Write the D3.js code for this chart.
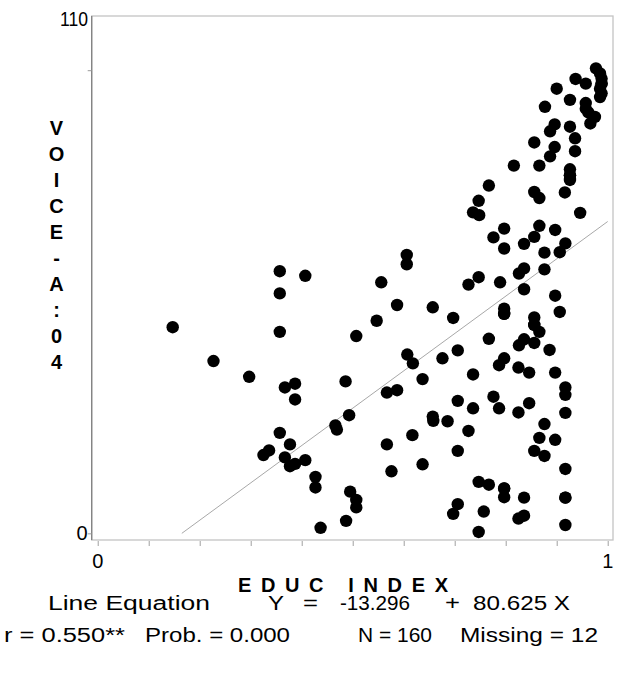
<!DOCTYPE html>
<html lang="en">
	<head>
		<meta charset="utf-8">
		<title>VOICE-A:04 by EDUC INDEX</title>
		<script type="text/javascript" src="https://cdn.jsdelivr.net/npm/d3@7/dist/d3.min.js"></script>
		<style>
			body { margin: 0; background: #fff; }
			text { font-family: "Liberation Sans", Arial, sans-serif; fill: #000; }
		</style>
	</head>
	<body>
		<script type="text/javascript">
			// data
			var educ_index = [
				0.147, 0.227, 0.297, 0.357, 0.407, 0.357, 0.357, 0.367, 0.387, 0.387,
				0.357, 0.377, 0.336, 0.325, 0.367, 0.377, 0.387, 0.407, 0.427, 0.427,
				0.437, 0.487, 0.495, 0.486, 0.493, 0.466, 0.469, 0.507, 0.507, 0.607,
				0.618, 0.676, 0.706, 0.787, 0.797, 0.825, 0.736, 0.637, 0.567, 0.587,
				0.706, 0.736, 0.776, 0.787, 0.825, 0.657, 0.658, 0.686, 0.727, 0.617,
				0.567, 0.706, 0.637, 0.576, 0.747, 0.767, 0.797, 0.797, 0.706, 0.697,
				0.757, 0.825, 0.747, 0.836, 0.836, 0.917, 0.917, 0.917, 0.856, 0.876,
				0.866, 0.897, 0.876, 0.846, 0.917, 0.917, 0.917, 0.846, 0.897, 0.886,
				0.856, 0.836, 0.826, 0.866, 0.856, 0.856, 0.797, 0.797, 0.906, 0.897,
				0.836, 0.789, 0.826, 0.836, 0.876, 0.906, 0.917, 0.876, 0.836, 0.797,
				0.797, 0.856, 0.866, 0.897, 0.946, 0.866, 0.856, 0.916, 0.816, 0.767,
				0.747, 0.736, 0.748, 0.776, 0.606, 0.606, 0.556, 0.747, 0.727, 0.587,
				0.657, 0.547, 0.697, 0.507, 0.767, 0.866, 0.926, 0.926, 0.926, 0.856,
				0.896, 0.887, 0.936, 0.936, 0.896, 0.887, 0.926, 0.877, 0.926, 0.900,
				0.937, 0.957, 0.957, 0.957, 0.962, 0.975, 0.966, 0.977, 0.985, 0.988,
				0.988, 0.985, 0.988, 0.985, 0.917, 0.797, 0.926, 0.988, 0.856, 0.797
			];
			var voice_a04 = [
				44.5, 37.2, 33.8, 56.6, 55.6, 51.8, 43.5, 31.5, 32.3, 28.9,
				21.7, 19.2, 17.9, 16.9, 16.4, 14.5, 15.0, 15.8, 12.2, 9.9,
				1.2, 2.7, 9.0, 32.8, 25.5, 23.3, 22.4, 7.2, 5.6, 38.6,
				36.7, 37.8, 39.5, 36.3, 37.8, 35.8, 34.3, 33.3, 30.4, 30.9,
				28.6, 27.0, 29.5, 27.0, 26.1, 25.2, 24.3, 24.2, 22.1, 21.2,
				19.2, 17.8, 14.9, 13.4, 11.1, 10.5, 9.7, 7.8, 6.3, 4.2,
				4.7, 3.2, 0.3, 7.7, 3.8, 7.7, 1.8, 13.9, 17.8, 16.7,
				20.6, 20.2, 23.6, 28.1, 26.0, 31.5, 29.9, 34.7, 34.7, 39.6,
				41.1, 41.9, 40.6, 43.5, 45.0, 46.6, 48.5, 47.4, 47.8, 51.3,
				52.7, 54.2, 56.1, 57.2, 57.0, 60.7, 62.6, 60.6, 62.5, 61.5,
				65.8, 64.0, 66.4, 65.5, 69.2, 72.4, 73.7, 73.6, 79.4, 75.1,
				71.8, 69.3, 68.7, 63.9, 60.1, 58.1, 54.2, 55.3, 53.7, 49.3,
				48.8, 45.9, 46.5, 42.6, 42.0, 79.4, 78.6, 77.3, 76.3, 84.4,
				83.4, 81.4, 85.3, 82.5, 88.3, 86.8, 87.8, 92.1, 93.6, 96.0,
				98.1, 97.1, 92.9, 91.7, 90.9, 89.9, 88.5, 100.4, 99.3, 98.2,
				97.1, 96.0, 95.0, 94.2, 7.7, 9.7, 77.3, 97.1, 45.0, 47.4
			];

			// regression line and summary
			var intercept = -13.296;
			var slope = 80.625;
			var x_ticks = [0, 0.1, 0.2, 0.3, 0.4, 0.5, 0.6, 0.7, 0.8, 0.9, 1];
			var x_tick_labels = ["0", "1"];
			var y_ticks = [0, 100];
			var y_tick_labels = ["0", "110"];
			var y_title = ["V", "O", "I", "C", "E", "-", "A", ":", "0", "4"];
			var line1 = ["Line Equation", "Y", "=", "-13.296", "+", "80.625 X"];
			var line2 = ["r = 0.550**", "Prob. = 0.000", "N = 160", "Missing = 12"];

			// page parameters
			var width = 627;
			var height = 673;
			var left = 91.7;
			var right = 613;
			var top_edge = 16;
			var bottom = 540;

			var svg = d3.select("body").append("svg").attr("width", width).attr("height", height);

			var x_scale = d3.scaleLinear()
				.domain([-0.0118, 1.0104])
				.range([left, right]);

			var y_scale = d3.scaleLinear()
				.domain([-1.44, 111.7])
				.range([bottom, top_edge]);

			// frame
			svg.append("rect")
				.attr("x", left)
				.attr("y", top_edge)
				.attr("width", right - left)
				.attr("height", bottom - top_edge)
				.attr("fill", "none")
				.attr("stroke", "#c4c4c4")
				.attr("stroke-width", 1.3);

			// y axis
			var y_axis = d3.axisLeft(y_scale)
				.tickValues(y_ticks)
				.tickSize(4)
				.tickFormat("");
			var gy = svg.append("g")
				.attr("transform", "translate(" + left + ",0)")
				.call(y_axis);
			gy.select(".domain").attr("stroke", "#808080").attr("stroke-width", 1.3).attr("d", "M0," + top_edge + "V" + bottom);
			gy.selectAll(".tick line").attr("stroke", "#9a9a9a");

			svg.append("text")
				.attr("x", left - 4)
				.attr("y", y_scale(0) + 7)
				.attr("text-anchor", "end")
				.style("font-size", "20px")
				.text(y_tick_labels[0]);
			svg.append("text")
				.attr("x", 60)
				.attr("y", top_edge + 10)
				.attr("textLength", 28)
				.attr("lengthAdjust", "spacingAndGlyphs")
				.style("font-size", "20px")
				.text(y_tick_labels[1]);

			// x axis, ticks hang below the frame
			var x_axis = d3.axisBottom(x_scale)
				.tickValues(x_ticks)
				.tickSize(5)
				.tickFormat("");
			var gx = svg.append("g")
				.attr("transform", "translate(0," + (bottom + 1) + ")")
				.call(x_axis);
			gx.select(".domain").remove();
			gx.selectAll(".tick line").attr("stroke", "#a0a0a0");

			svg.selectAll(".xlab")
				.data(x_tick_labels)
				.enter()
				.append("text")
				.attr("class", "xlab")
				.attr("x", function (d) { return x_scale(+d); })
				.attr("y", 567.5)
				.attr("text-anchor", "middle")
				.style("font-size", "20px")
				.text(function (d) { return d; });

			// regression line, from Y = 0 to X = 1
			var x_start = -intercept / slope;
			svg.append("line")
				.attr("x1", x_scale(x_start))
				.attr("y1", y_scale(0))
				.attr("x2", x_scale(1))
				.attr("y2", y_scale(intercept + slope))
				.attr("stroke", "#a8a8a8")
				.attr("stroke-width", 1);

			// points
			svg.selectAll("circle")
				.data(educ_index)
				.enter()
				.append("circle")
				.attr("cx", function (d) { return x_scale(d); })
				.attr("cy", function (d, i) { return y_scale(voice_a04[i]); })
				.attr("r", 6.2)
				.attr("fill", "#000");

			// axis titles
			svg.append("text")
				.attr("x", 238)
				.attr("y", 592)
				.attr("textLength", 210)
				.attr("lengthAdjust", "spacing")
				.style("font-size", "20px")
				.style("font-weight", "bold")
				.style("white-space", "pre")
				.text("E D U C   I N D E X");

			svg.selectAll(".ytitle")
				.data(y_title)
				.enter()
				.append("text")
				.attr("class", "ytitle")
				.attr("x", 56.5)
				.attr("y", function (d, i) { return 135 + i * 26; })
				.attr("text-anchor", "middle")
				.style("font-size", "20px")
				.style("font-weight", "bold")
				.text(function (d) { return d; });

			// footer, widths stretched to match the picture
			var line1_x = [48, 268, 303, 340, 445, 473];
			var line1_w = [162, 16, 15, 70, 15, 97];
			svg.selectAll(".l1")
				.data(line1)
				.enter()
				.append("text")
				.attr("class", "l1")
				.attr("x", function (d, i) { return line1_x[i]; })
				.attr("y", 610)
				.attr("textLength", function (d, i) { return line1_w[i]; })
				.attr("lengthAdjust", "spacingAndGlyphs")
				.style("font-size", "20px")
				.text(function (d) { return d; });

			var line2_x = [4, 145, 358, 460];
			var line2_w = [121, 145, 74, 138];
			svg.selectAll(".l2")
				.data(line2)
				.enter()
				.append("text")
				.attr("class", "l2")
				.attr("x", function (d, i) { return line2_x[i]; })
				.attr("y", 642)
				.attr("textLength", function (d, i) { return line2_w[i]; })
				.attr("lengthAdjust", "spacingAndGlyphs")
				.style("font-size", "20px")
				.text(function (d) { return d; });
		</script>
	</body>
</html>
